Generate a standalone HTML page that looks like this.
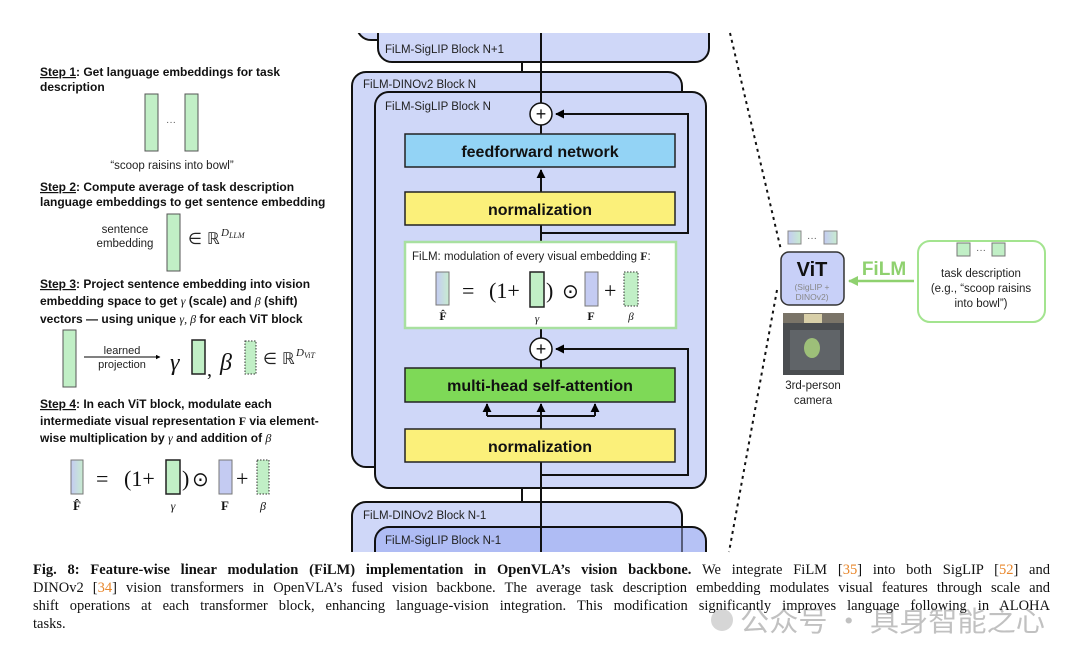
<!DOCTYPE html>
<html><head><meta charset="utf-8"><style>
html,body{margin:0;padding:0;background:#fff;}
body{width:1080px;height:654px;position:relative;overflow:hidden;font-family:"Liberation Sans",sans-serif;}
svg{position:absolute;left:0;top:0;}
.cap{position:absolute;left:33px;width:1017px;font-family:"Liberation Serif",serif;font-size:14.5px;line-height:18px;color:#111;white-space:nowrap;text-align:justify;text-align-last:justify;}
.cap b{font-weight:bold;}
.o{color:#e8862a;}
</style></head><body>
<svg width="1080" height="654" viewBox="0 0 1080 654" font-family="Liberation Sans, sans-serif">
<defs>
<linearGradient id="fh" x1="0" x2="1"><stop offset="0" stop-color="#c4cbf2"/><stop offset="1" stop-color="#c8ecd0"/></linearGradient>
<marker id="ah" viewBox="0 0 10 10" refX="9" refY="5" markerWidth="4.5" markerHeight="4.5" orient="auto"><path d="M0,0 L10,5 L0,10 z" fill="#000"/></marker>
<marker id="ag" viewBox="0 0 10 10" refX="9" refY="5" markerWidth="4" markerHeight="4" orient="auto"><path d="M0,0 L10,5 L0,10 z" fill="#8fd16f"/></marker>
<clipPath id="cl"><rect x="0" y="33" width="1080" height="519"/></clipPath>
</defs>

<!-- left panel -->
<g font-size="12" font-weight="bold" fill="#111">
<text x="40" y="76"><tspan text-decoration="underline">Step 1</tspan>: Get language embeddings for task</text>
<text x="40" y="91">description</text>
<text x="40" y="191"><tspan text-decoration="underline">Step 2</tspan>: Compute average of task description</text>
<text x="40" y="206">language embeddings to get sentence embedding</text>
<text x="40" y="288"><tspan text-decoration="underline">Step 3</tspan>: Project sentence embedding into vision</text>
<text x="40" y="305">embedding space to get <tspan font-family="Liberation Serif" font-style="italic" font-weight="normal">γ</tspan> (scale) and <tspan font-family="Liberation Serif" font-style="italic" font-weight="normal">β</tspan> (shift)</text>
<text x="40" y="323">vectors — using unique <tspan font-family="Liberation Serif" font-style="italic" font-weight="normal">γ, β</tspan> for each ViT block</text>
<text x="40" y="408"><tspan text-decoration="underline">Step 4</tspan>: In each ViT block, modulate each</text>
<text x="40" y="425">intermediate visual representation <tspan font-family="Liberation Serif">F</tspan> via element-</text>
<text x="40" y="442">wise multiplication by <tspan font-family="Liberation Serif" font-style="italic" font-weight="normal">γ</tspan> and addition of <tspan font-family="Liberation Serif" font-style="italic" font-weight="normal">β</tspan></text>
</g>
<rect x="145" y="94" width="13" height="57" fill="#c1efc6" stroke="#555" stroke-width="1"/>
<rect x="185" y="94" width="13" height="57" fill="#c1efc6" stroke="#555" stroke-width="1"/>
<text x="171" y="125" font-size="10" text-anchor="middle" fill="#555">···</text>
<text x="172" y="169" font-size="11.5" text-anchor="middle" fill="#222">“scoop raisins into bowl”</text>
<text x="125" y="233" font-size="11.5" text-anchor="middle" fill="#222">sentence</text>
<text x="125" y="247" font-size="11.5" text-anchor="middle" fill="#222">embedding</text>
<rect x="167" y="214" width="13" height="57" fill="#c1efc6" stroke="#555" stroke-width="1"/>
<text x="188" y="244" font-size="16" fill="#222" font-family="DejaVu Sans, sans-serif">∈ ℝ</text>
<text x="221" y="236" font-size="11" font-style="italic" fill="#222" font-family="Liberation Serif">D<tspan font-size="8" dy="2">LLM</tspan></text>

<rect x="63" y="330" width="13" height="57" fill="#c1efc6" stroke="#555" stroke-width="1"/>
<text x="122" y="354" font-size="11" text-anchor="middle" fill="#222">learned</text>
<line x1="84" y1="357" x2="160" y2="357" stroke="#000" stroke-width="1" marker-end="url(#ah)"/>
<text x="122" y="368" font-size="11" text-anchor="middle" fill="#222">projection</text>
<text x="170" y="370" font-size="24" font-style="italic" font-family="Liberation Serif" fill="#111">γ</text>
<rect x="192" y="340" width="13" height="34" fill="#c1efc6" stroke="#222" stroke-width="1.5"/>
<text x="207" y="376" font-size="20" font-family="Liberation Serif" fill="#111">,</text>
<text x="220" y="370" font-size="24" font-style="italic" font-family="Liberation Serif" fill="#111">β</text>
<rect x="245" y="341" width="11" height="33" fill="#c1efc6" stroke="#333" stroke-width="1" stroke-dasharray="1.5,1.5"/>
<text x="263" y="364" font-size="16" fill="#222" font-family="DejaVu Sans, sans-serif">∈ ℝ</text>
<text x="296" y="356" font-size="11" font-style="italic" fill="#222" font-family="Liberation Serif">D<tspan font-size="8" dy="2">ViT</tspan></text>

<g font-family="Liberation Serif" fill="#111">
<rect x="71" y="460" width="12" height="34" fill="url(#fh)" stroke="#777" stroke-width="1"/>
<text x="77" y="510" font-size="13" font-weight="bold" text-anchor="middle">F̂</text>
<text x="96" y="486" font-size="22">=</text>
<text x="124" y="486" font-size="22">(1+</text>
<rect x="166" y="460" width="14" height="34" fill="#c1efc6" stroke="#222" stroke-width="1.5"/>
<text x="173" y="510" font-size="12" font-style="italic" text-anchor="middle">γ</text>
<text x="182" y="486" font-size="22">)</text>
<text x="192" y="486" font-size="20" font-family="DejaVu Sans">⊙</text>
<rect x="219" y="460" width="13" height="34" fill="#c4cbf2" stroke="#777" stroke-width="1"/>
<text x="225" y="510" font-size="13" font-weight="bold" text-anchor="middle">F</text>
<text x="236" y="486" font-size="22">+</text>
<rect x="257" y="460" width="12" height="34" fill="#c1efc6" stroke="#333" stroke-width="1" stroke-dasharray="1.5,1.5"/>
<text x="263" y="510" font-size="12" font-style="italic" text-anchor="middle">β</text>
</g>

<!-- center column -->
<g clip-path="url(#cl)" stroke="#111" stroke-width="2">
<rect x="357" y="-20" width="320" height="60" rx="14" fill="#cfd7f8"/>
<rect x="378" y="-20" width="331" height="82" rx="14" fill="#cfd7f8"/>
<line x1="522" y1="62" x2="522" y2="92"/>
<rect x="352" y="72" width="330" height="395" rx="14" fill="#cfd7f8"/>
<rect x="375" y="92" width="331" height="396" rx="14" fill="#cfd7f8"/>
<line x1="522" y1="488" x2="522" y2="527"/>
<rect x="352" y="502" width="330" height="80" rx="14" fill="#cfd7f8"/>
<rect x="375" y="527" width="331" height="60" rx="14" fill="#a9b7f3" fill-opacity="0.85"/>
<line x1="682" y1="527" x2="682" y2="560" stroke-width="1.5" stroke-opacity="0.6"/>
<line x1="541" y1="20" x2="541" y2="103"/>
<line x1="541" y1="125" x2="541" y2="134"/>
<line x1="541" y1="462" x2="541" y2="560"/>
</g>
<g font-size="11.5" fill="#222">
<text x="385" y="53">FiLM-SigLIP Block N+1</text>
<text x="363" y="88">FiLM-DINOv2 Block N</text>
<text x="385" y="110">FiLM-SigLIP Block N</text>
<text x="363" y="519">FiLM-DINOv2 Block N-1</text>
<text x="385" y="544">FiLM-SigLIP Block N-1</text>
</g>
<g stroke="#111" stroke-width="2" fill="none">
<polyline points="541,233 688,233 688,114 556,114" marker-end="url(#ah)"/>
<polyline points="541,475 688,475 688,349 556,349" marker-end="url(#ah)"/>
<line x1="541" y1="192" x2="541" y2="170" marker-end="url(#ah)"/>
<line x1="541" y1="225" x2="541" y2="242"/>
<line x1="541" y1="328" x2="541" y2="338"/>
<line x1="541" y1="360" x2="541" y2="368"/>
<polyline points="487,416 595,416"/>
<line x1="487" y1="416" x2="487" y2="404" marker-end="url(#ah)"/>
<line x1="541" y1="429" x2="541" y2="404" marker-end="url(#ah)"/>
<line x1="595" y1="416" x2="595" y2="404" marker-end="url(#ah)"/>
</g>
<g stroke="#111" stroke-width="1.5">
<circle cx="541" cy="114" r="11" fill="#fff"/>
<circle cx="541" cy="349" r="11" fill="#fff"/>
</g>
<text x="541" y="120" font-size="18" text-anchor="middle" fill="#111">+</text>
<text x="541" y="355" font-size="18" text-anchor="middle" fill="#111">+</text>
<rect x="405" y="134" width="270" height="33" fill="#93d3f5" stroke="#222" stroke-width="1.5"/>
<text x="540" y="157" font-size="16" font-weight="bold" text-anchor="middle" fill="#111">feedforward network</text>
<rect x="405" y="192" width="270" height="33" fill="#fbf07a" stroke="#222" stroke-width="1.5"/>
<text x="540" y="215" font-size="16" font-weight="bold" text-anchor="middle" fill="#111">normalization</text>
<rect x="405" y="242" width="271" height="86" fill="#fff" stroke="#a8e0a0" stroke-width="2.5"/>
<text x="412" y="260" font-size="11.5" fill="#222">FiLM: modulation of every visual embedding <tspan font-family="Liberation Serif" font-weight="bold" font-size="12">F</tspan>:</text>
<g font-family="Liberation Serif" fill="#111">
<rect x="436" y="272" width="13" height="33" fill="url(#fh)" stroke="#777" stroke-width="1"/>
<text x="443" y="320" font-size="12" font-weight="bold" text-anchor="middle">F̂</text>
<text x="462" y="298" font-size="22">=</text>
<text x="489" y="298" font-size="22">(1+</text>
<rect x="530" y="272" width="14" height="35" fill="#c1efc6" stroke="#222" stroke-width="1.5"/>
<text x="537" y="322" font-size="11" font-style="italic" text-anchor="middle">γ</text>
<text x="546" y="298" font-size="22">)</text>
<text x="562" y="298" font-size="20" font-family="DejaVu Sans">⊙</text>
<rect x="585" y="272" width="13" height="34" fill="#c4cbf2" stroke="#777" stroke-width="1"/>
<text x="591" y="320" font-size="12" font-weight="bold" text-anchor="middle">F</text>
<text x="604" y="298" font-size="22">+</text>
<rect x="624" y="272" width="14" height="34" fill="#c1efc6" stroke="#333" stroke-width="1" stroke-dasharray="1.5,1.5"/>
<text x="631" y="320" font-size="11" font-style="italic" text-anchor="middle">β</text>
</g>
<rect x="405" y="368" width="270" height="34" fill="#7ed957" stroke="#222" stroke-width="1.5"/>
<text x="540" y="391" font-size="16" font-weight="bold" text-anchor="middle" fill="#111">multi-head self-attention</text>
<rect x="405" y="429" width="270" height="33" fill="#fbf07a" stroke="#222" stroke-width="1.5"/>
<text x="540" y="452" font-size="16" font-weight="bold" text-anchor="middle" fill="#111">normalization</text>

<!-- dotted lines -->
<line x1="730" y1="33" x2="781" y2="250" stroke="#111" stroke-width="2" stroke-dasharray="3,4"/>
<line x1="777" y1="290" x2="729" y2="552" stroke="#111" stroke-width="2" stroke-dasharray="3,4"/>

<!-- right -->
<rect x="788" y="231" width="13" height="13" fill="url(#fh)" stroke="#888" stroke-width="1"/>
<rect x="824" y="231" width="13" height="13" fill="url(#fh)" stroke="#888" stroke-width="1"/>
<text x="812" y="241" font-size="10" fill="#555" text-anchor="middle">···</text>
<rect x="781" y="252" width="63" height="53" rx="8" fill="#c8d0f8" stroke="#333" stroke-width="1.5"/>
<text x="812" y="276" font-size="20" font-weight="bold" text-anchor="middle" fill="#111">ViT</text>
<text x="812" y="290" font-size="8.5" text-anchor="middle" fill="#888">(SigLIP +</text>
<text x="812" y="300" font-size="8.5" text-anchor="middle" fill="#888">DINOv2)</text>
<rect x="783" y="313" width="61" height="62" fill="#4a4d50"/>
<rect x="783" y="313" width="61" height="10" fill="#7a7468"/>
<rect x="804" y="314" width="18" height="9" fill="#d8cfa8"/>
<ellipse cx="812" cy="348" rx="8" ry="10" fill="#a8d96a"/>
<rect x="790" y="330" width="50" height="40" fill="#8a8f95" opacity="0.35"/>
<text x="813" y="389" font-size="11.5" text-anchor="middle" fill="#222">3rd-person</text>
<text x="813" y="404" font-size="11.5" text-anchor="middle" fill="#222">camera</text>
<text x="884" y="275" font-size="19" font-weight="bold" text-anchor="middle" fill="#8fd16f">FiLM</text>
<line x1="914" y1="281" x2="849" y2="281" stroke="#8fd16f" stroke-width="2.5" marker-end="url(#ag)"/>
<rect x="918" y="241" width="127" height="81" rx="12" fill="#fff" stroke="#a3e48f" stroke-width="2"/>
<rect x="957" y="243" width="13" height="13" fill="#c1efc6" stroke="#777" stroke-width="1"/>
<rect x="992" y="243" width="13" height="13" fill="#c1efc6" stroke="#777" stroke-width="1"/>
<text x="981" y="253" font-size="10" fill="#555" text-anchor="middle">···</text>
<text x="981" y="277" font-size="11.5" text-anchor="middle" fill="#222">task description</text>
<text x="981" y="292" font-size="11.5" text-anchor="middle" fill="#222">(e.g., “scoop raisins</text>
<text x="981" y="307" font-size="11.5" text-anchor="middle" fill="#222">into bowl”)</text>

<!-- watermark -->
<circle cx="722" cy="620" r="11" fill="#bbb" opacity="0.6"/>
<text x="740" y="631" font-size="28" fill="#999" opacity="0.6" font-family="Noto Sans CJK SC, sans-serif" textLength="305" lengthAdjust="spacingAndGlyphs">公众号 · 具身智能之心</text>
</svg>
<div class="cap" style="top:561px"><b>Fig. 8: Feature-wise linear modulation (FiLM) implementation in OpenVLA’s vision backbone.</b> We integrate FiLM [<span class="o">35</span>] into both SigLIP [<span class="o">52</span>] and</div>
<div class="cap" style="top:579px">DINOv2 [<span class="o">34</span>] vision transformers in OpenVLA’s fused vision backbone. The average task description embedding modulates visual features through scale and</div>
<div class="cap" style="top:597px">shift operations at each transformer block, enhancing language-vision integration. This modification significantly improves language following in ALOHA</div>
<div class="cap" style="top:615px;text-align-last:left">tasks.</div>
</body></html>
